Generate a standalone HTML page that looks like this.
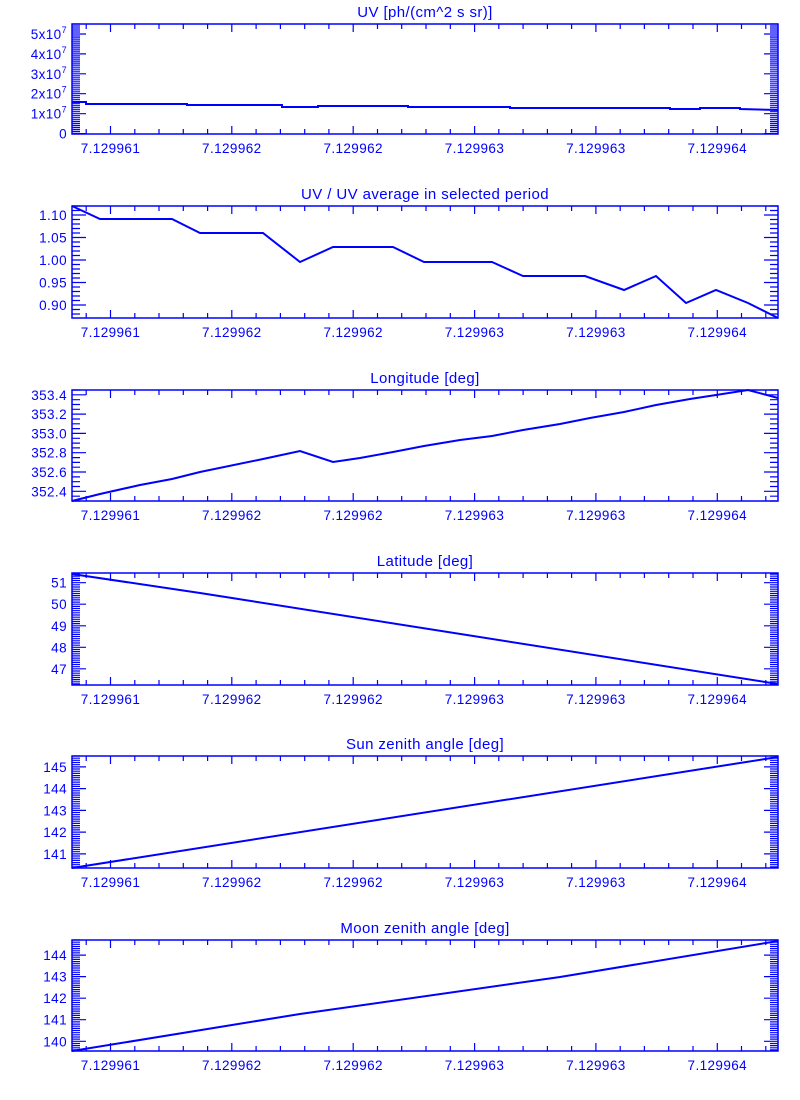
<!DOCTYPE html>
<html><head><meta charset="utf-8"><style>
html,body{margin:0;padding:0;background:#fff;}
svg{display:block;font-family:"Liberation Sans",sans-serif;}
text{fill:#0000ff;font-size:13.5px;letter-spacing:0.4px;}
</style></head><body>
<svg id="s" width="800" height="1100" xmlns="http://www.w3.org/2000/svg"></svg>
<script>
var s=document.getElementById('s'),h='';
var X0=72,X1=778;
var sup='<tspan dy="-6" font-size="9">7</tspan>';
var panels=[
 {t:'UV [ph/(cm^2 s sr)]',top:24,bot:134,v0:-2e5,v1:5.5e7,maj:1e7,min:1e6,labs:[[0,'0'],[1e7,'1x10'+sup],[2e7,'2x10'+sup],[3e7,'3x10'+sup],[4e7,'4x10'+sup],[5e7,'5x10'+sup]],
  pts:[[72,102],[86,102],[86,104],[187,104],[187,105],[282,105],[282,107],[318,107],[318,106],[408,106],[408,107],[510,107],[510,108],[670,108],[670,109],[700,109],[700,108],[740,108],[740,109],[778,110]]},
 {t:'UV / UV average in selected period',top:206,bot:318,v0:0.8711,v1:1.12,maj:0.05,min:0.01,labs:[[0.9,'0.90'],[0.95,'0.95'],[1.0,'1.00'],[1.05,'1.05'],[1.1,'1.10']],
  pts:[[72,206],[100,219],[172,219],[200,233],[263,233],[300,262],[333,247],[393,247],[424,262],[492,262],[523,276],[585,276],[624,290],[656,276],[686,303],[716,290],[748,303],[778,318]]},
 {t:'Longitude [deg]',top:390,bot:501,v0:352.3,v1:353.45,maj:0.2,min:0.05,labs:[[352.4,'352.4'],[352.6,'352.6'],[352.8,'352.8'],[353.0,'353.0'],[353.2,'353.2'],[353.4,'353.4']],
  pts:[[72,501],[100,494],[140,485],[172,479],[200,472],[263,459],[300,451],[333,462],[360,458],[393,452],[424,446],[460,440],[492,436],[523,430],[560,424],[590,418],[624,412],[656,405],[690,399],[716,395],[748,390],[778,398]]},
 {t:'Latitude [deg]',top:573,bot:685,v0:46.25,v1:51.45,maj:1,min:0.1,labs:[[47,'47'],[48,'48'],[49,'49'],[50,'50'],[51,'51']],
  pts:[[72,574],[200,593],[232,598],[778,684]]},
 {t:'Sun zenith angle [deg]',top:756,bot:868,v0:140.35,v1:145.5,maj:1,min:0.1,labs:[[141,'141'],[142,'142'],[143,'143'],[144,'144'],[145,'145']],
  pts:[[72,868],[778,757]]},
 {t:'Moon zenith angle [deg]',top:940,bot:1051,v0:139.55,v1:144.7,maj:1,min:0.1,labs:[[140,'140'],[141,'141'],[142,'142'],[143,'143'],[144,'144']],
  pts:[[72,1051],[232,1025],[300,1014],[560,977],[778,941]]}
];
var xl=['7.129961','7.129962','7.129962','7.129963','7.129963','7.129964'];
panels.forEach(function(p){
 var Y=function(v){return p.bot-(v-p.v0)/(p.v1-p.v0)*(p.bot-p.top);};
 h+='<rect x="'+X0+'" y="'+p.top+'" width="'+(X1-X0)+'" height="'+(p.bot-p.top)+'" fill="none" stroke="#00f" stroke-width="1.5"/>';
 h+='<text x="425" y="'+(p.top-7)+'" text-anchor="middle" style="font-size:15px">'+p.t+'</text>';
 var d='';
 for(var v=Math.ceil(p.v0/p.min-1e-6)*p.min;v<=p.v1+1e-9;v+=p.min){
  var y=Y(v).toFixed(1);var r=Math.abs(v/p.maj-Math.round(v/p.maj))<1e-4;var L=r?14:8;
  d+='M'+X0+' '+y+'h'+L+'M'+X1+' '+y+'h-'+L;
 }
 for(var i=-1;i<=28;i++){var x=110.5+i*24.27;if(x<X0||x>X1)continue;var L=(i%5==0)?8:5;
  d+='M'+x.toFixed(1)+' '+p.bot+'v-'+L+'M'+x.toFixed(1)+' '+p.top+'v'+L;}
 h+='<path d="'+d+'" stroke="#00f" stroke-width="1.2" fill="none"/>';
 p.labs.forEach(function(l){h+='<text x="67" y="'+(Y(l[0])+5).toFixed(1)+'" text-anchor="end">'+l[1]+'</text>';});
 for(var i=0;i<6;i++){h+='<text x="'+(110.5+i*121.35).toFixed(1)+'" y="'+(p.bot+19)+'" text-anchor="middle">'+xl[i]+'</text>';}
 h+='<polyline points="'+p.pts.map(function(q){return q.join(',')}).join(' ')+'" fill="none" stroke="#00f" stroke-width="2"/>';
});
s.innerHTML=h;
</script>
</body></html>
